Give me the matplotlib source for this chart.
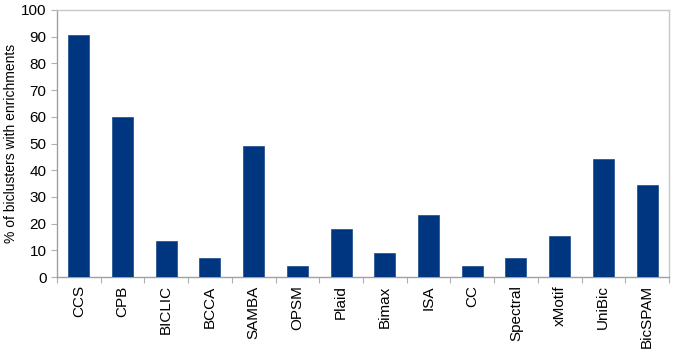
import matplotlib.pyplot as plt
import numpy as np

plt.rcParams['font.family'] = ['Liberation Sans', 'DejaVu Sans']

# --- data ---
methods = ["CCS", "CPB", "BICLIC", "BCCA", "SAMBA", "OPSM", "Plaid",
           "Bimax", "ISA", "CC", "Spectral", "xMotif", "UniBic", "BicSPAM"]
pct = [90.5, 59.8, 13.6, 7.2, 48.9, 4.2, 17.9,
       8.9, 23.3, 4.2, 7.2, 15.3, 44.1, 34.4]
yticks = list(range(0, 101, 10))

fig = plt.figure(figsize=(6.75, 3.52), dpi=100)
ax = fig.add_axes([0.0844, 0.213, 0.9066, 0.7586])

x = np.arange(len(methods))
ax.bar(x, pct, width=0.48, color="#003580", edgecolor="#1a4a8a", linewidth=0.5, zorder=3)

ax.set_xlim(-0.5, len(methods) - 0.5)
ax.set_ylim(0, 100)
ax.set_yticks(yticks)
ax.tick_params(axis="y", labelsize=11, length=4, color="#b0b0b0", width=0.8)

ax.set_xticks(x)
ax.set_xticklabels(methods, rotation=90, fontsize=11)
ax.tick_params(axis="x", length=0, pad=6)
ax.set_xticks(np.arange(-0.5, len(methods), 1.0), minor=True)
ax.tick_params(axis="x", which="minor", length=4, color="#b0b0b0", width=0.8)

for s in ax.spines.values():
    s.set_color("#c8c8c8")
    s.set_linewidth(1.0)
ax.spines["left"].set_color("#a0a0a0")
ax.spines["bottom"].set_color("#a0a0a0")

ax.set_ylabel("% of biclusters with enrichments", fontsize=10, labelpad=2)

fig.savefig("out.png", dpi=100)
